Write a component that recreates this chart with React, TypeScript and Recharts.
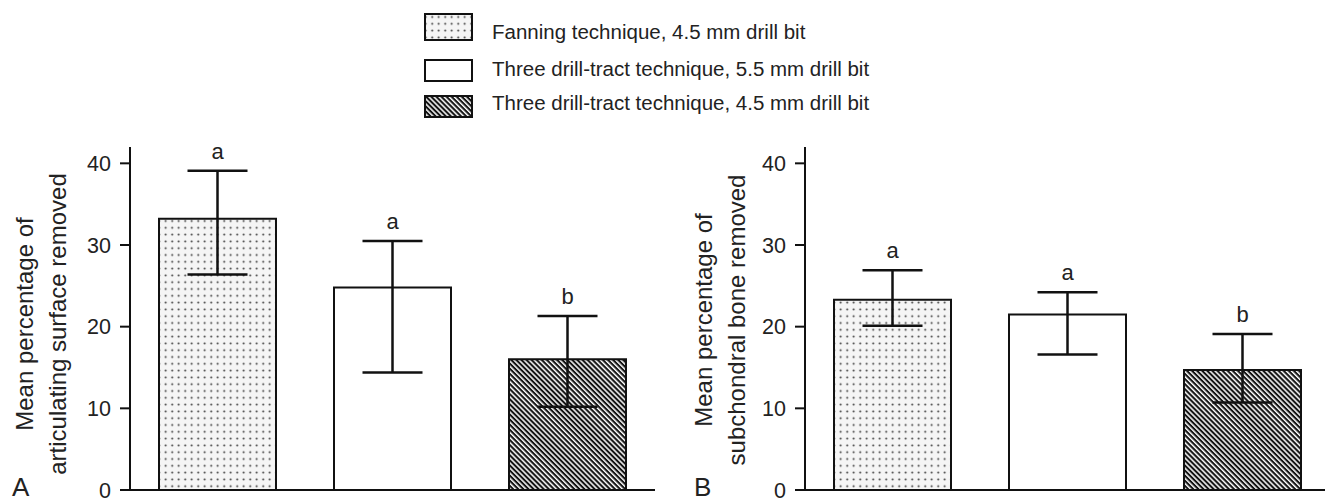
import React from 'react';
import { ComposedChart, Bar, ErrorBar, XAxis, YAxis, Line, LabelList, Cell } from 'recharts';

const categories = [
  'Fanning technique, 4.5 mm drill bit',
  'Three drill-tract technique, 5.5 mm drill bit',
  'Three drill-tract technique, 4.5 mm drill bit',
];
const fills = ['url(#dotsPat)', '#ffffff', 'url(#hatchPat)'];

const articMean = [33.2, 24.8, 16.0];
const articLow = [26.4, 14.4, 10.2];
const articHigh = [39.1, 30.5, 21.3];
const articLetters = ['a', 'a', 'b'];

const subMean = [23.3, 21.5, 14.7];
const subLow = [20.1, 16.6, 10.7];
const subHigh = [26.9, 24.2, 19.1];
const subLetters = ['a', 'a', 'b'];

const yTicks = [0, 10, 20, 30, 40];
const yDomain = [0, 42];

const FONT = '"Liberation Sans", Arial, Helvetica, sans-serif';
const INK = '#111';
const TEXT = '#222';

function build(mean: number[], low: number[], high: number[], letters: string[]) {
  return categories.map((c, i) => ({
    name: c,
    mean: mean[i],
    err: [mean[i] - low[i], high[i] - mean[i]],
    top: high[i],
    letter: letters[i],
    fill: fills[i],
  }));
}

const dataA = build(articMean, articLow, articHigh, articLetters);
const dataB = build(subMean, subLow, subHigh, subLetters);

function AxisTitle(props: any) {
  const { line1, line2, x1, x2, cy, letter, letterX } = props;
  return (
    <g>
      <text transform={`translate(${x1}, ${cy}) rotate(-90)`} textAnchor="middle" fontSize={24} fill={TEXT} fontFamily={FONT}>
        {line1}
      </text>
      <text transform={`translate(${x2}, ${cy}) rotate(-90)`} textAnchor="middle" fontSize={24} fill={TEXT} fontFamily={FONT}>
        {line2}
      </text>
      <text x={letterX} y={496} fontSize={26} fill={TEXT} fontFamily={FONT}>
        {letter}
      </text>
    </g>
  );
}

function Panel(props: any) {
  const { data, left, width, line1, line2, x1, x2, cy, letter, letterX } = props;
  return (
    <div style={{ position: 'absolute', left, top: 0 }}>
      <ComposedChart
        width={width}
        height={502}
        data={data}
        margin={{ top: 147, right: width - 130 - 525, bottom: 0, left: 0 }}
      >
        <XAxis
          dataKey="name"
          tick={false}
          tickLine={false}
          axisLine={{ stroke: INK, strokeWidth: 2 }}
          height={12}
        />
        <YAxis
          domain={yDomain}
          ticks={yTicks}
          width={130}
          tickSize={10}
          tickMargin={9}
          interval={0}
          axisLine={{ stroke: INK, strokeWidth: 2 }}
          tickLine={{ stroke: INK, strokeWidth: 2 }}
          tick={{ fontSize: 21.5, fill: TEXT, fontFamily: FONT }}
          label={
            <AxisTitle line1={line1} line2={line2} x1={x1} x2={x2} cy={cy} letter={letter} letterX={letterX} />
          }
        />
        <Bar dataKey="mean" barSize={117} stroke={INK} strokeWidth={2} isAnimationActive={false}>
          {data.map((d: any, i: number) => (
            <Cell key={i} fill={d.fill} />
          ))}
          <ErrorBar dataKey="err" width={30} stroke={INK} strokeWidth={2.5} />
        </Bar>
        <Line dataKey="top" stroke="none" dot={false} activeDot={false} isAnimationActive={false}>
          <LabelList dataKey="letter" position="top" offset={12} fontSize={22} fill={TEXT} fontFamily={FONT} />
        </Line>
      </ComposedChart>
    </div>
  );
}

function LegendBlock() {
  const rows = [
    { y: 14, h: 26, ty: 39, fill: 'url(#dotsPat)' },
    { y: 60, h: 21, ty: 76, fill: '#ffffff' },
    { y: 96, h: 21, ty: 110, fill: 'url(#hatchPat)' },
  ];
  return (
    <svg width={1325} height={130} style={{ position: 'absolute', left: 0, top: 0 }}>
      <defs>
        <pattern id="dotsPat" patternUnits="userSpaceOnUse" width={6.5} height={6.8}>
          <rect width={6.5} height={6.8} fill="#f5f5f5" />
          <circle cx={3.2} cy={3.4} r={1} fill="#3a3a3a" />
        </pattern>
        <pattern id="hatchPat" patternUnits="userSpaceOnUse" width={3.6} height={3.6} patternTransform="rotate(45)">
          <rect width={3.6} height={3.6} fill="#ffffff" />
          <rect width={3.6} height={2.1} fill="#141414" />
        </pattern>
      </defs>
      {rows.map((r, i) => (
        <g key={i}>
          <rect x={425} y={r.y} width={47} height={r.h} fill={r.fill} stroke={INK} strokeWidth={2} />
          <text x={492} y={r.ty} fontSize={20.5} fill={TEXT} fontFamily={FONT}>
            {categories[i]}
          </text>
        </g>
      ))}
    </svg>
  );
}

export default function App() {
  return (
    <div
      style={{
        position: 'absolute',
        left: 0,
        top: 0,
        width: 1325,
        height: 502,
        overflow: 'hidden',
        background: '#fff',
      }}
    >
      <LegendBlock />
      <Panel
        data={dataA}
        left={0}
        width={660}
        line1="Mean percentage of"
        line2="articulating surface removed"
        x1={33}
        x2={66}
        cy={324}
        letter="A"
        letterX={12}
      />
      <Panel
        data={dataB}
        left={675}
        width={660}
        line1="Mean percentage of"
        line2="subchondral bone removed"
        x1={37}
        x2={70}
        cy={320}
        letter="B"
        letterX={19}
      />
    </div>
  );
}
